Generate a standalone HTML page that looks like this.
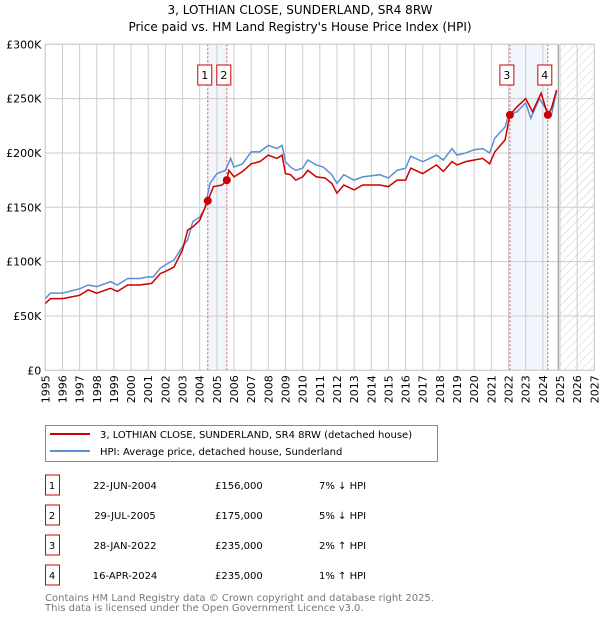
<!DOCTYPE html>
<html><head><meta charset="utf-8"><style>
body{margin:0;background:#fff;font-family:"DejaVu Sans","Liberation Sans",sans-serif;}
svg text{font-family:"DejaVu Sans","Liberation Sans",sans-serif;}
</style></head><body>
<svg id="chart" width="600" height="620" viewBox="0 0 600 620" xmlns="http://www.w3.org/2000/svg">
<defs><pattern id="hatch" patternUnits="userSpaceOnUse" width="6" height="6" patternTransform="rotate(45)"><line x1="0" y1="0" x2="0" y2="6" stroke="#ccc" stroke-width="1"/></pattern></defs>
<text x="300" y="14" text-anchor="middle" font-size="12">3, LOTHIAN CLOSE, SUNDERLAND, SR4 8RW</text>
<text x="300" y="31" text-anchor="middle" font-size="12">Price paid vs. HM Land Registry's House Price Index (HPI)</text>
<g id="plot"></g>
<g>
<rect x="45.5" y="425.5" width="392" height="36" fill="#fff" stroke="#888"/>
<line x1="50" y1="434" x2="90" y2="434" stroke="#cc0000" stroke-width="2"/>
<text x="100" y="438" font-size="10">3, LOTHIAN CLOSE, SUNDERLAND, SR4 8RW (detached house)</text>
<line x1="50" y1="451" x2="90" y2="451" stroke="#5b8fd4" stroke-width="2"/>
<text x="100" y="455" font-size="10">HPI: Average price, detached house, Sunderland</text>
</g>
<g id="table"></g>
<text x="45" y="601" font-size="10" fill="#777">Contains HM Land Registry data © Crown copyright and database right 2025.</text>
<text x="45" y="611" font-size="10" fill="#777">This data is licensed under the Open Government Licence v3.0.</text>
</svg>
<script>
const hpiYears=[1995,1995.3,1996,1997,1997.5,1998,1998.8,1999.2,1999.8,2000.5,2001,2001.3,2001.7,2002,2002.5,2003,2003.3,2003.6,2004,2004.3,2004.6,2005,2005.5,2005.8,2006,2006.5,2007,2007.5,2008,2008.5,2008.8,2009,2009.3,2009.6,2010,2010.3,2010.8,2011.2,2011.7,2012,2012.4,2013,2013.5,2014.5,2015,2015.5,2016,2016.3,2017,2017.8,2018.2,2018.7,2019,2019.5,2020,2020.5,2020.9,2021.2,2021.8,2022,2022.5,2023,2023.3,2023.8,2024.2,2024.5,2024.8];
const hpiValues=[66,71,71,75,78.5,77,81.5,78.5,84.5,84.5,86,86,94,97,101.5,114,120,137,141,149,172,181,184,195,187,190,201,201,207,204,207,192,187,184,186,193.5,189,187,180,172,180,175,178,180,177,184,186,197,192,198,193.5,204,198,200,203,204,200,213.5,224,235,238,246,232,250,240,235,256.5];
const ppYears=[1995,1995.3,1996,1997,1997.5,1998,1998.8,1999.2,1999.8,2000.5,2001.2,2001.7,2002,2002.5,2003,2003.3,2003.6,2004,2004.47,2004.8,2005.3,2005.58,2005.7,2006,2006.5,2007,2007.5,2008,2008.5,2008.8,2009,2009.3,2009.6,2010,2010.3,2010.8,2011.3,2011.7,2012,2012.4,2013,2013.5,2014.5,2015,2015.5,2016,2016.3,2017,2017.8,2018.2,2018.7,2019,2019.5,2020,2020.5,2020.9,2021.2,2021.8,2022.08,2022.5,2023,2023.4,2023.9,2024.29,2024.5,2024.8];
const ppValues=[61.5,66,66,69,74,71,75.5,72.5,78.5,78.5,80,89,91,95,111,129,132,138,156,169,170.5,175,184,178,183,190,192,198,195,198,181,180,175,178,184,178,177,172,163,170.5,166,170.5,170.5,169,175,175,186,181,189,183,192,189,192,193.5,195,190,201,212,235,242.5,250,238,255,235,241,258];
const saleLabels=["1","2","3","4"];
const saleYears=[2004.47,2005.58,2022.08,2024.29];
const saleValues=[156,175,235,235];
const saleDates=["22-JUN-2004","29-JUL-2005","28-JAN-2022","16-APR-2024"];
const salePrices=["£156,000","£175,000","£235,000","£235,000"];
const saleDiffs=["7% ↓ HPI","5% ↓ HPI","2% ↑ HPI","1% ↑ HPI"];
const yTicks=[0,50,100,150,200,250,300];
const yTickLabels=["£0","£50K","£100K","£150K","£200K","£250K","£300K"];
const xStart=1995,xEnd=2027,dataEnd=2024.9,forecastStart=2025;
const L=45.3,R=594.3,T=44.3,B=370.3;
const X=y=>L+(y-xStart)/(xEnd-xStart)*(R-L);
const Y=v=>B-v/300*(B-T);
const NS="http://www.w3.org/2000/svg";
const plot=document.getElementById('plot');
function mk(tag,attrs,parent){const e=document.createElementNS(NS,tag);for(const k in attrs)e.setAttribute(k,attrs[k]);(parent||plot).appendChild(e);return e;}
for(const [a,b] of [[0,1],[2,3]]){
 const r=mk('rect',{x:X(saleYears[a]),y:T,width:X(saleYears[b])-X(saleYears[a]),height:B-T,fill:'#f1f5fc'});
 
 
}
const h=mk('rect',{x:X(forecastStart),y:T,width:R-X(forecastStart),height:B-T,fill:'url(#hatch)'});


for(let yr=xStart;yr<=xEnd;yr++){
 const g=mk('line',{x1:X(yr),x2:X(yr),y1:T,y2:B,stroke:'#ccc','stroke-width':1});
 
 
 const t=mk('text',{x:0,y:0,'font-size':11,'text-anchor':'end',transform:`translate(${X(yr)+4},${B+5}) rotate(-90)`});
 t.textContent=yr;
 
 
}
yTicks.forEach((v,i)=>{
 const g=mk('line',{x1:L,x2:R,y1:Y(v),y2:Y(v),stroke:'#ccc','stroke-width':1});
 
 
 const t=mk('text',{x:L-4,y:Y(v)+4,'font-size':11,'text-anchor':'end'});
 t.textContent=yTickLabels[i];
 
 
});
const de=mk('line',{x1:X(dataEnd),x2:X(dataEnd),y1:T,y2:B,stroke:'#888','stroke-width':1});


saleYears.forEach((yr,i)=>{
 const l=mk('line',{x1:X(yr),x2:X(yr),y1:T,y2:B,stroke:'#e05050','stroke-width':1,'stroke-dasharray':'2,2'});
 
 
 const bx=X(yr)-10;
 const r=mk('rect',{x:bx,y:65,width:14,height:20,fill:'#fff',stroke:'#cc0000'});
 
 
 const t=mk('text',{x:bx+7,y:79,'font-size':11,'text-anchor':'middle'});
 t.textContent=saleLabels[i];
 
 
});
const frame=mk('rect',{x:L,y:T,width:R-L,height:B-T,fill:'none',stroke:'#ccc'});


const hp=mk('polyline',{points:hpiYears.map((y,i)=>X(y)+','+Y(hpiValues[i])).join(' '),fill:'none',stroke:'#5b8fd4','stroke-width':1.5});


const pp=mk('polyline',{points:ppYears.map((y,i)=>X(y)+','+Y(ppValues[i])).join(' '),fill:'none',stroke:'#cc0000','stroke-width':1.5});


saleYears.forEach((yr,i)=>{
 const c=mk('circle',{cx:X(yr),cy:Y(saleValues[i]),r:4,fill:'#cc0000'});
 
 
});
const tb=document.getElementById('table');
saleLabels.forEach((s,i)=>{
 const cy=483+i*30;
 const r=mk('rect',{x:45.5,y:cy-8,width:14,height:20,fill:'#fff',stroke:'#cc0000'},tb);
 
 
 const cols=[[52,s,'middle'],[125,saleDates[i],'middle'],[215,salePrices[i],'start'],[319,saleDiffs[i],'start']];
 cols.forEach(([x,txt,a])=>{
  const t=mk('text',{x:x,y:cy+6,'font-size':10,'text-anchor':a},tb);
  t.textContent=txt;
  
  
 });
});
</script>
</body></html>
